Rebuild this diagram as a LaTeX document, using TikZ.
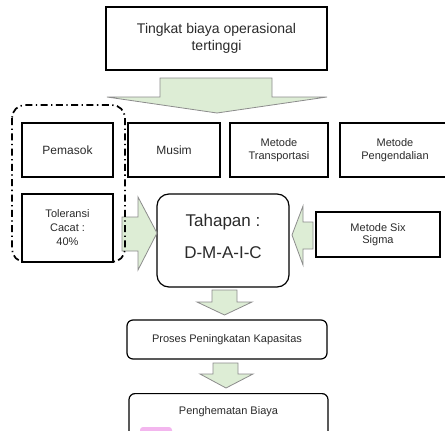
\documentclass[tikz,border=0pt]{standalone}
\usepackage{fontspec}
\setmainfont{Liberation Sans}
\usepackage{tikz}
\usetikzlibrary{positioning}

\definecolor{arrowgreen}{HTML}{DDEDD5}
\definecolor{arrowedge}{HTML}{8C8C8C}
\definecolor{blobpink}{HTML}{F3B6EE}
\definecolor{txtgray}{HTML}{2A2A2A}

\begin{document}
\begin{tikzpicture}[x=1pt,y=-1pt,
  box/.style={draw, line width=1.2pt, align=center, inner sep=0pt, text=txtgray},
  roundbox/.style={box, rounded corners=#1},
  blockarrow/.style={fill=arrowgreen, draw=arrowedge, line width=0.8pt, line join=miter},
  groupline/.style={draw, line width=1.7pt, rounded corners=13pt,
    dash pattern=on 7pt off 3.5pt on 1.3pt off 3.5pt}]
\clip (0,0) rectangle (445,431);

% top box
\node[box, minimum width=221, minimum height=63, font=\fontsize{14}{17}\selectfont] (cost) at (216.5,38.5) {Tingkat biaya operasional\\tertinggi};

% factors
\node[box, minimum width=91, minimum height=54, font=\fontsize{12}{14}\selectfont] (supplier) at (67.5,150) {Pemasok};
\node[box, minimum width=92, minimum height=54, font=\fontsize{12}{14}\selectfont] (season) at (174,150) {Musim};
\node[box, minimum width=98, minimum height=54, font=\fontsize{11}{13}\selectfont] (transport) at (279,150) {Metode\\Transportasi};
\node[box, minimum width=110, minimum height=54, font=\fontsize{11}{13}\selectfont] (control) at (395,150) {Metode\\Pengendalian};
\node[box, minimum width=91, minimum height=68, font=\fontsize{11}{14}\selectfont] (tolerance) at (67.5,228) {Toleransi\\Cacat :\\40\%};

% stages
\node[roundbox=12pt, minimum width=132, minimum height=93, font=\fontsize{17}{32}\selectfont] (dmaic) at (223,240.5) {Tahapan :\\D-M-A-I-C\rule[-8pt]{0pt}{8pt}};
\node[box, minimum width=124, minimum height=45, font=\fontsize{11}{12}\selectfont] (sixsigma) at (378,234.5) {Metode Six\\Sigma};
\node[roundbox=6pt, minimum width=200, minimum height=39, font=\fontsize{11}{13}\selectfont] (capacity) at (227,339.5) {Proses Peningkatan Kapasitas};
\node[roundbox=6pt, minimum width=199, inner ysep=12pt, text height=9pt, text depth=30pt, anchor=north, font=\fontsize{11}{13}\selectfont] (saving) at (228.5,393) {Penghematan Biaya};

% block arrows
\draw[blockarrow] (160,78) -- (272,78) -- (272,97) -- (327,97) -- (217,113) -- (107,97) -- (160,97) -- cycle;
\draw[blockarrow] (122,217) -- (138,217) -- (138,197) -- (157,233) -- (138,270) -- (138,251) -- (122,251) -- cycle;
\draw[blockarrow] (313,222) -- (303,222) -- (303,206) -- (292,235) -- (303,265) -- (303,249) -- (313,249) -- cycle;
\draw[blockarrow] (212,290) -- (237,290) -- (237,302) -- (252,302) -- (224.5,315) -- (197,302) -- (212,302) -- cycle;
\draw[blockarrow] (213,363) -- (238,363) -- (238,374) -- (253,374) -- (226,388) -- (200,374) -- (213,374) -- cycle;

% group round supplier and tolerance
\draw[groupline] (12,105) rectangle (125,262);

% pink mark at the bottom
\fill[blobpink, rounded corners=3pt] (140,427) rectangle (172,438);
\end{tikzpicture}
\end{document}
